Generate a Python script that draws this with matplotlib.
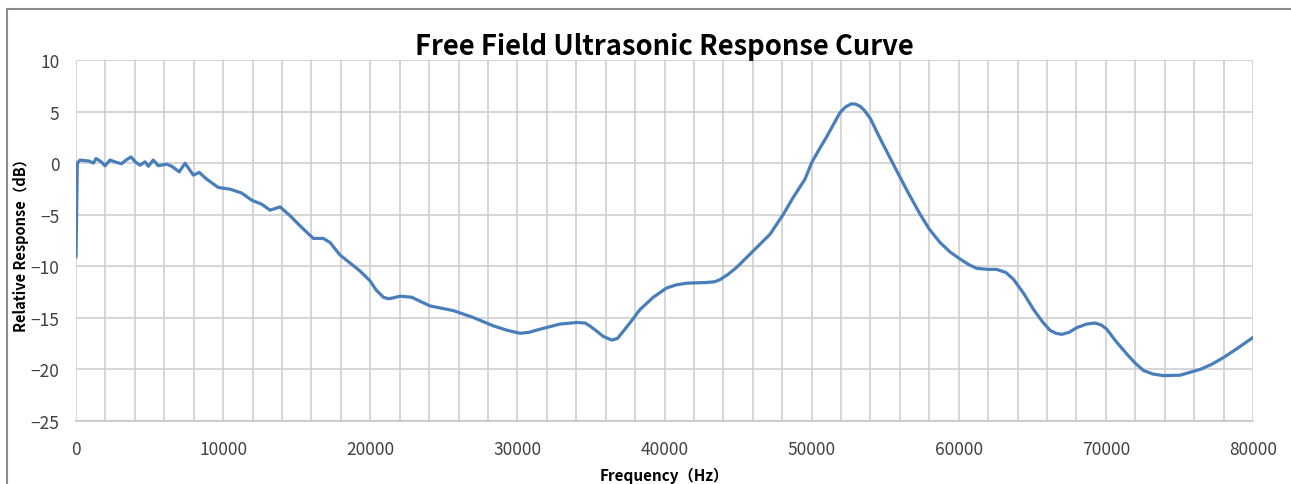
import matplotlib
matplotlib.use("Agg")
import matplotlib.pyplot as plt
from matplotlib.lines import Line2D
from matplotlib.ticker import MultipleLocator

# response curve (Hz, dB)
freq = [0, 90, 270, 600, 900, 1180, 1360, 1700, 1970, 2310, 2700, 3100, 3400, 3740,
        4050, 4350, 4690, 4920, 5250, 5600, 6160, 6500, 7020, 7410, 7970, 8380,
        8880, 9670, 10470, 11260, 11940, 12620, 13190, 13870, 14550, 15230, 16130,
        16810, 17270, 17940, 19300, 19980, 20400, 20890, 21230, 21600, 22020, 22820,
        23400, 24060, 25650, 27010, 28370, 29300, 30180, 30800, 31540, 32900, 34030,
        34600, 34940, 35400, 35840, 36410, 36800, 37200, 37700, 38330, 39240, 40150,
        40800, 41510, 42870, 43400, 43770, 44300, 44910, 46040, 47170, 48080, 48760,
        49550, 50010, 50500, 51000, 51500, 51930, 52300, 52700, 53000, 53300, 53600,
        54000, 54650, 55550, 56500, 57370, 58000, 58730, 59400, 60090, 60700, 61220,
        62000, 62580, 63200, 63710, 64400, 65070, 65700, 66200, 66600, 67000, 67500,
        68020, 68700, 69260, 69700, 70060, 70700, 71420, 72000, 72550, 73200, 73910,
        75040, 76400, 77200, 77990, 79000, 80000]
resp = [-9.1, 0.0, 0.3, 0.25, 0.2, 0.0, 0.45, 0.15, -0.26, 0.3, 0.1, -0.06, 0.3, 0.6,
        0.1, -0.2, 0.13, -0.3, 0.3, -0.25, -0.1, -0.3, -0.84, 0.0, -1.16, -0.9,
        -1.55, -2.36, -2.52, -2.9, -3.59, -3.98, -4.56, -4.24, -5.1, -6.08, -7.3,
        -7.3, -7.7, -8.9, -10.45, -11.4, -12.3, -13.0, -13.15, -13.05, -12.9, -13.0,
        -13.4, -13.84, -14.3, -14.97, -15.78, -16.2, -16.5, -16.4, -16.1, -15.6, -15.45,
        -15.5, -15.8, -16.3, -16.8, -17.15, -17.0, -16.3, -15.4, -14.2, -13.0, -12.1,
        -11.8, -11.64, -11.57, -11.5, -11.3, -10.8, -10.1, -8.5, -6.9, -4.95, -3.3,
        -1.55, 0.07, 1.3, 2.5, 3.8, 4.9, 5.45, 5.75, 5.72, 5.5, 5.1,
        4.3, 2.4, -0.1, -2.7, -4.95, -6.4, -7.7, -8.6, -9.3, -9.85, -10.2,
        -10.3, -10.3, -10.6, -11.25, -12.6, -14.16, -15.4, -16.2, -16.5, -16.6, -16.4,
        -15.95, -15.6, -15.5, -15.7, -16.1, -17.3, -18.5, -19.4, -20.1, -20.45, -20.6,
        -20.56, -20.0, -19.5, -18.85, -17.9, -16.9]

title = "Free Field Ultrasonic Response Curve"
xlabel = "Frequency（Hz）"
ylabel = "Relative Response（dB）"

plt.rcParams["font.family"] = ["Noto Sans CJK SC", "DejaVu Sans"]

fig = plt.figure(figsize=(12.91, 4.85), dpi=100)
ax = fig.add_axes([76 / 1291, 63 / 485, 1177 / 1291, 361 / 485])

ax.plot(freq, resp, color="#4a7ebb", linewidth=2.3,
        solid_joinstyle="round", solid_capstyle="round")

ax.set_xlim(0, 80000)
ax.set_ylim(-25, 10)
ax.xaxis.set_major_locator(MultipleLocator(10000))
ax.xaxis.set_minor_locator(MultipleLocator(2000))
ax.yaxis.set_major_locator(MultipleLocator(5))
ax.grid(True, which="both", color="#d0d0d0", linewidth=1.2)
ax.set_axisbelow(True)
for s in ["top", "right", "left"]:
    ax.spines[s].set_visible(False)
ax.spines["bottom"].set_color("#c8c8c8")
ax.spines["bottom"].set_linewidth(1.2)
ax.tick_params(which="both", length=0)
ax.tick_params(axis="x", pad=14, labelsize=12.5, labelcolor="#404040")
ax.tick_params(axis="y", pad=12, labelsize=12.5, labelcolor="#404040")

ax.set_title(title, fontsize=19.7, fontweight="bold", pad=3)
ax.set_xlabel(xlabel, fontsize=11, fontweight="bold", labelpad=6)
ax.set_ylabel(ylabel, fontsize=10.5, fontweight="bold")
ax.yaxis.set_label_coords(-47 / 1177, 0.5)

# outer chart frame
fig.add_artist(Line2D([7 / 1291, 7 / 1291], [0, 1 - 10 / 485], color="#8c8c8c", linewidth=1.5))
fig.add_artist(Line2D([7 / 1291, 1], [1 - 10 / 485, 1 - 10 / 485], color="#8c8c8c", linewidth=1.5))

fig.savefig("out.png", dpi=100)
